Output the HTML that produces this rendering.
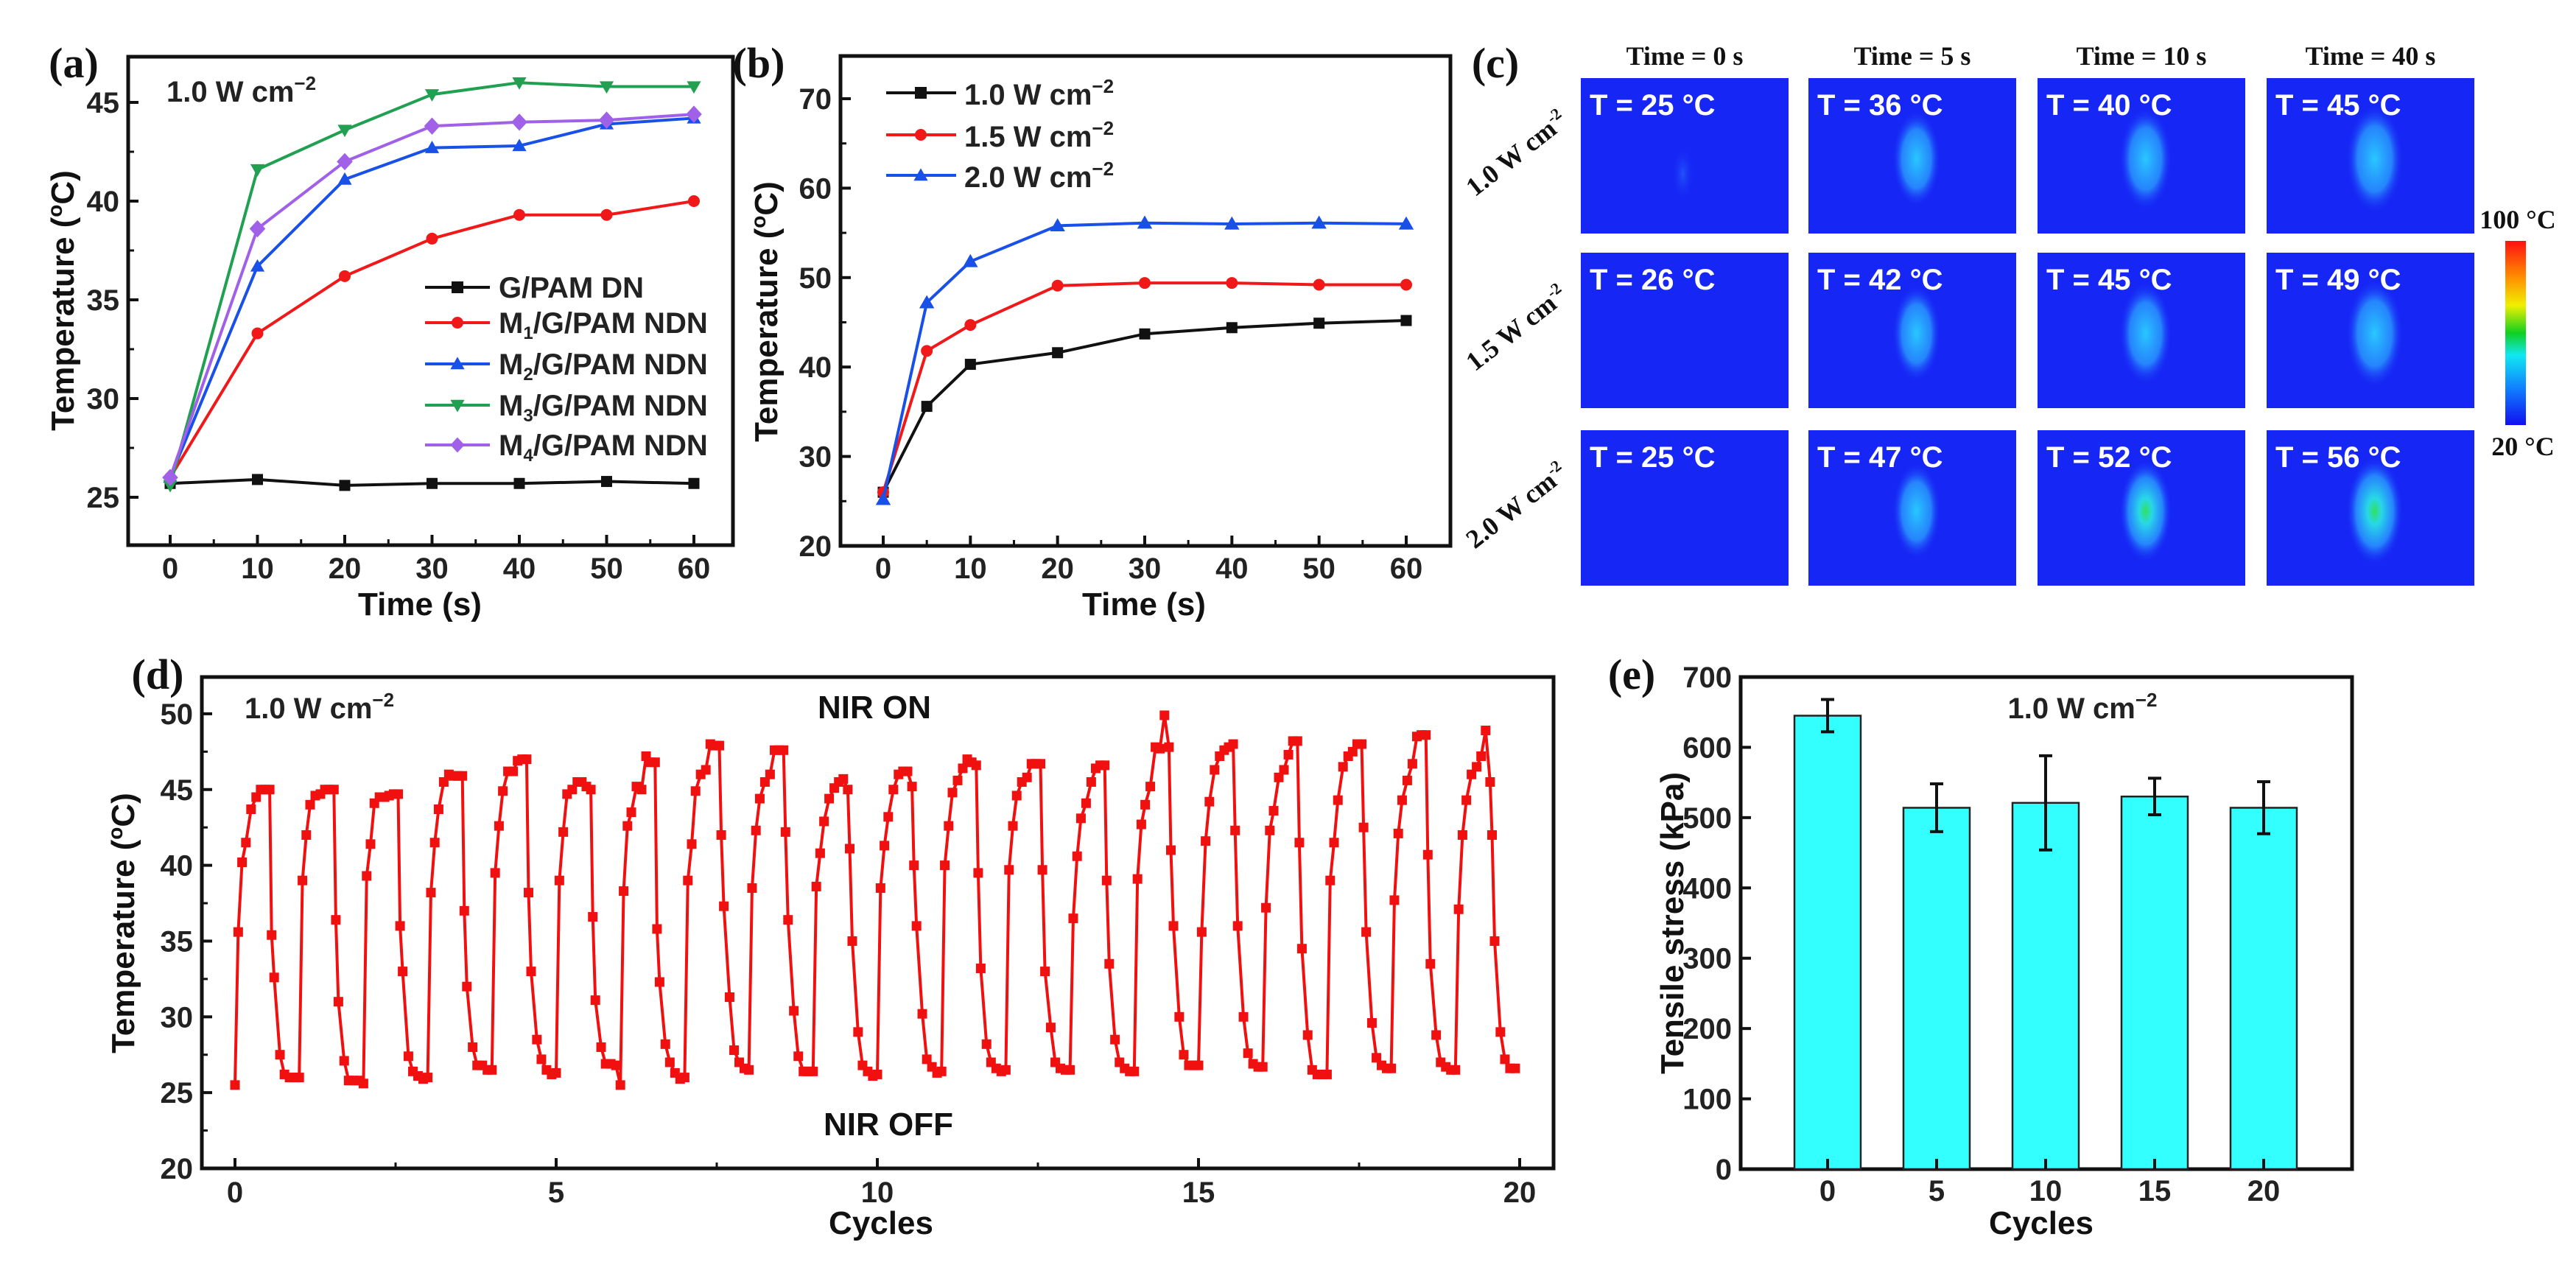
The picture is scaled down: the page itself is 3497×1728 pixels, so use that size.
<!DOCTYPE html>
<html><head><meta charset="utf-8"><style>
html,body{margin:0;padding:0;background:#fff;}
svg{display:block;font-family:"Liberation Sans",sans-serif;}
.tk{font-size:40px;font-weight:bold;fill:#222;}
.ttl{font-size:44px;font-weight:bold;fill:#111;}
.pl{font-family:"Liberation Serif",serif;font-size:58px;font-weight:bold;fill:#111;}
.hd{font-family:"Liberation Serif",serif;font-size:36px;font-weight:bold;fill:#111;}
.it{font-size:40px;fill:#fff;font-weight:bold;}
</style></head><body>
<svg id="fig" width="3497" height="1728" viewBox="0 0 3497 1728" xmlns="http://www.w3.org/2000/svg">
<defs>
<radialGradient id="blob" cx="50%" cy="50%" r="50%"><stop offset="0" stop-color="#28c8ff"/><stop offset="0.6" stop-color="#2a9cff" stop-opacity="0.8"/><stop offset="1" stop-color="#1626f5" stop-opacity="0"/></radialGradient>
<radialGradient id="blobg" cx="50%" cy="50%" r="50%"><stop offset="0" stop-color="#30e060"/><stop offset="0.25" stop-color="#28d8e8"/><stop offset="0.65" stop-color="#2a9cff" stop-opacity="0.8"/><stop offset="1" stop-color="#1626f5" stop-opacity="0"/></radialGradient>
<radialGradient id="blobf" cx="50%" cy="50%" r="50%"><stop offset="0" stop-color="#2a70ff" stop-opacity="0.6"/><stop offset="1" stop-color="#1626f5" stop-opacity="0"/></radialGradient>
<linearGradient id="cbar" x1="0" y1="0" x2="0" y2="1"><stop offset="0" stop-color="#ff1010"/><stop offset="0.2" stop-color="#ff9000"/><stop offset="0.35" stop-color="#f0f000"/><stop offset="0.5" stop-color="#10d020"/><stop offset="0.62" stop-color="#10e8f0"/><stop offset="0.8" stop-color="#1080ff"/><stop offset="1" stop-color="#1010f0"/></linearGradient>
</defs>
</svg>
<script>
// ---------- data ----------
const timeA = [0,10,20,30,40,50,60];
const aDN = [25.7,25.9,25.6,25.7,25.7,25.8,25.7];
const aM1 = [26,33.3,36.2,38.1,39.3,39.3,40];
const aM2 = [26,36.7,41.1,42.7,42.8,43.9,44.2];
const aM3 = [25.6,41.6,43.6,45.4,46,45.8,45.8];
const aM4 = [26,38.6,42,43.8,44,44.1,44.4];
const timeB = [0,5,10,20,30,40,50,60];
const b10 = [26,35.6,40.3,41.6,43.7,44.4,44.9,45.2];
const b15 = [26,41.8,44.7,49.1,49.4,49.4,49.2,49.2];
const b20 = [25.2,47.2,51.8,55.8,56.1,56,56.1,56];
const phaseD = [0,0.05,0.11,0.17,0.25,0.33,0.40,0.47,0.54,0.57,0.61,0.70,0.77,0.85,0.93];
const cyclesD = [
[25.5,35.6,40.2,41.5,43.7,44.5,45,45,45,35.4,32.6,27.5,26.2,26,26],
[26,39,42,44,44.6,44.7,45,45,45,36.4,31,27.1,25.8,25.8,25.8],
[25.6,39.3,41.4,44.1,44.5,44.5,44.6,44.7,44.7,36,33,27.4,26.4,26.1,25.9],
[26,38.2,41.5,43.7,45.5,46,45.9,45.9,45.9,37,32,28,26.8,26.8,26.5],
[26.5,39.5,42.6,44.9,46.2,46.2,46.9,47,47,38.2,33,28.5,27.2,26.5,26.2],
[26.3,39,42.2,44.7,45,45.5,45.5,45.2,45,36.6,31.1,28,26.9,26.9,26.8],
[25.5,38.3,42.6,43.5,45.2,45,47.2,46.8,46.8,35.8,32.3,28.2,27,26.3,25.9],
[26,39,41.4,44.9,46,46.3,48,47.9,47.9,42,37.3,31.3,27.8,27,26.6],
[26.5,38.5,42.3,44.4,45.5,46,47.6,47.6,47.6,42.2,36.4,30.4,27.4,26.4,26.4],
[26.4,38.6,40.8,42.9,44.4,45.1,45.5,45.7,45,41.1,35,29,26.8,26.4,26.1],
[26.2,38.5,41.3,43.2,45,46,46.2,46.2,45.2,40,36,30.2,27.2,26.7,26.3],
[26.4,40,42.6,44.8,45.6,46.4,47,46.8,46.6,39.5,33.2,28.2,27,26.6,26.4],
[26.5,39.7,42.6,44.6,45.5,45.8,46.7,46.7,46.7,39.7,33,29.3,27,26.6,26.5],
[26.5,36.5,40.6,43.1,44.1,45.5,46.4,46.6,46.6,39,33.5,28.5,27,26.6,26.4],
[26.4,39.1,42.7,44,45.2,47.8,47.7,49.9,47.8,41,36,30,27.5,26.8,26.8],
[26.8,35.6,41.6,44.2,46.3,47.2,47.6,47.8,48,42.3,36,30,27.6,26.9,26.7],
[26.7,37.2,42.3,43.6,45.8,46.3,47.3,48.2,48.2,41.5,34.5,28.8,26.5,26.2,26.2],
[26.2,39,41.5,44.3,46.5,47.2,47.5,48,48,42.5,35.6,29.6,27.3,26.8,26.6],
[26.6,37.7,42.1,44.3,45.6,46.7,48.5,48.6,48.6,40.7,33.5,28.8,27,26.7,26.5],
[26.5,37.1,42,44.3,46,46.5,47.2,48.9,45.5,42,35,29,27.2,26.6,26.6]
];
const catsE = ["0","5","10","15","20"];
const valsE = [645,514,521,530,514];
const errE = [23,34,67,26,37];
const imgTemps = [["25","36","40","45"],["26","42","45","49"],["25","47","52","56"]];
const timesC = ["0","5","10","40"];
const powersC = ["1.0","1.5","2.0"];

// ---------- helpers ----------
const NS="http://www.w3.org/2000/svg";
const svg=document.getElementById('fig');
function mk(tag,attrs,parent,txt){const e=document.createElementNS(NS,tag);for(const k in attrs)e.setAttribute(k,attrs[k]);if(txt!==undefined)e.textContent=txt;(parent||svg).appendChild(e);return e;}
function grp(name){const g=mk('g',{});return g;}

function axesBox(g,x0,y0,x1,y1){
  const r=mk('rect',{x:x0,y:y0,width:x1-x0,height:y1-y0,fill:'none',stroke:'#111','stroke-width':5},g);
  
  
}
function yTicks(g,xAxis,ys,vals,minor,fmt){
  vals.forEach(v=>{
    const y=ys(v);
    const l=mk('line',{x1:xAxis,x2:xAxis+14,y1:y,y2:y,stroke:'#111','stroke-width':4},g);
    
    
    const t=mk('text',{x:xAxis-12,y:y+14,'text-anchor':'end',class:'tk'},g,fmt?fmt(v):String(v));
    
    
  });
  minor.forEach(v=>{
    const y=ys(v);
    const l=mk('line',{x1:xAxis,x2:xAxis+8,y1:y,y2:y,stroke:'#111','stroke-width':3},g);
    
    
  });
}
function xTicks(g,yAxis,xs,vals,minor,labelY){
  vals.forEach(v=>{
    const x=xs(v);
    const l=mk('line',{x1:x,x2:x,y1:yAxis,y2:yAxis-14,stroke:'#111','stroke-width':4},g);
    
    
    const t=mk('text',{x:x,y:labelY,'text-anchor':'middle',class:'tk'},g,String(v));
    
    
  });
  minor.forEach(v=>{
    const x=xs(v);
    const l=mk('line',{x1:x,x2:x,y1:yAxis,y2:yAxis-8,stroke:'#111','stroke-width':3},g);
    
    
  });
}
function marker(g,shape,x,y,s,color){
  let e;
  if(shape==='sq') e=mk('rect',{x:x-s/2,y:y-s/2,width:s,height:s,fill:color},g);
  else if(shape==='ci') e=mk('circle',{cx:x,cy:y,r:s/2,fill:color},g);
  else if(shape==='up') e=mk('polygon',{points:`${x},${y-s*0.6} ${x-s*0.6},${y+s*0.45} ${x+s*0.6},${y+s*0.45}`,fill:color},g);
  else if(shape==='dn') e=mk('polygon',{points:`${x},${y+s*0.6} ${x-s*0.6},${y-s*0.45} ${x+s*0.6},${y-s*0.45}`,fill:color},g);
  else e=mk('polygon',{points:`${x},${y-s*0.65} ${x+s*0.6},${y} ${x},${y+s*0.65} ${x-s*0.6},${y}`,fill:color},g);
  
  
}
function series(g,name,xsArr,ysArr,xs,ys,color,shape,size){
  const sg=mk('g',{},g);
  
  
  const pts=xsArr.map((t,i)=>xs(t)+','+ys(ysArr[i])).join(' ');
  const pl=mk('polyline',{points:pts,fill:'none',stroke:color,'stroke-width':4,'stroke-linejoin':'round'},sg);
  
  
  xsArr.forEach((t,i)=>marker(sg,shape,xs(t),ys(ysArr[i]),size,color));
}
function legendEntry(g,x,y,color,shape,label,sub,rest){
  const lg=mk('g',{},g);
  
  
  const l=mk('line',{x1:x,x2:x+88,y1:y,y2:y,stroke:color,'stroke-width':4},lg);
  
  
  marker(lg,shape,x+44,y,16,color);
  const t=mk('text',{x:x+100,y:y+14,class:'tk'},lg);
  
  
  t.appendChild(document.createTextNode(label));
  if(sub){const s=mk('tspan',{'font-size':24,dy:8},t,sub);const r=mk('tspan',{dy:-8},t,rest);}
}
function powerText(g,x,y,anchor,txt){
  const t=mk('text',{x:x,y:y,class:'tk','text-anchor':anchor||'start'},g);
  
  
  t.appendChild(document.createTextNode(txt+' W cm'));
  mk('tspan',{'font-size':26,dy:-16},t,'−2');
  return t;
}
function yTitle(g,x,y,txt,sup,rest){
  const t=mk('text',{x:0,y:0,class:'ttl','text-anchor':'middle',transform:`translate(${x},${y}) rotate(-90)`},g);
  
  
  t.appendChild(document.createTextNode(txt));
  if(sup){mk('tspan',{'font-size':28,dy:-16},t,sup);mk('tspan',{dy:16},t,rest);}
}
function xTitle(g,x,y,txt){
  const t=mk('text',{x:x,y:y,class:'ttl','text-anchor':'middle'},g,txt);
  
  
}
function panelLabel(x,y,txt){
  const t=mk('text',{x:x,y:y,class:'pl','text-anchor':'middle'},svg,txt);
  
  
}

// ---------- panel a ----------
(function(){
  const g=grp('panel-a-chart');
  const xs=t=>231+t*11.85, ys=v=>675-(v-25)*26.8;
  axesBox(g,174,77,995,740);
  yTicks(g,174,ys,[25,30,35,40,45],[27.5,32.5,37.5,42.5,47.5].filter(v=>ys(v)>80),null);
  xTicks(g,740,xs,[0,10,20,30,40,50,60],[5,15,25,35,45,55],785);
  series(g,'series-g-pam-dn',timeA,aDN,xs,ys,'#111','sq',15);
  series(g,'series-m1',timeA,aM1,xs,ys,'#f01818','ci',16);
  series(g,'series-m2',timeA,aM2,xs,ys,'#1850e8','up',16);
  series(g,'series-m3',timeA,aM3,xs,ys,'#20a050','dn',16);
  series(g,'series-m4',timeA,aM4,xs,ys,'#a060e8','di',18);
  const lg=mk('g',{},g);
  
  
  legendEntry(lg,577,390,'#111','sq','G/PAM DN');
  legendEntry(lg,577,438,'#f01818','ci','M','1','/G/PAM NDN');
  legendEntry(lg,577,494,'#1850e8','up','M','2','/G/PAM NDN');
  legendEntry(lg,577,550,'#20a050','dn','M','3','/G/PAM NDN');
  legendEntry(lg,577,604,'#a060e8','di','M','4','/G/PAM NDN');
  powerText(g,226,138,'start','1.0');
  yTitle(g,100,408,'Temperature (','o','C)');
  xTitle(g,570,835,'Time (s)');
  panelLabel(100,105,'(a)');
})();

// ---------- panel b ----------
(function(){
  const g=grp('panel-b-chart');
  const xs=t=>1199+t*11.833, ys=v=>741-(v-20)*12.14;
  axesBox(g,1141,76,1969,741);
  yTicks(g,1141,ys,[20,30,40,50,60,70],[25,35,45,55,65],null);
  xTicks(g,741,xs,[0,10,20,30,40,50,60],[5,15,25,35,45,55],785);
  series(g,'series-1-0-w',timeB,b10,xs,ys,'#111','sq',15);
  series(g,'series-1-5-w',timeB,b15,xs,ys,'#f01818','ci',16);
  series(g,'series-2-0-w',timeB,b20,xs,ys,'#1850e8','up',17);
  const lg=mk('g',{},g);
  
  
  [['#111','sq','1.0',126],['#f01818','ci','1.5',183],['#1850e8','up','2.0',238]].forEach(d=>{
    const e=mk('g',{},lg);
    
    
    const l=mk('line',{x1:1203,x2:1298,y1:d[3],y2:d[3],stroke:d[0],'stroke-width':4},e);
    
    
    marker(e,d[1],1250,d[3],16,d[0]);
    powerText(e,1309,d[3]+16,'start',d[2]);
  });
  yTitle(g,1055,423,'Temperature (','o','C)');
  xTitle(g,1553,835,'Time (s)');
  panelLabel(1030,105,'(b)');
})();

// ---------- panel c ----------
(function(){
  const g=grp('panel-c-thermal-images');
  const colX=[2146,2455,2766,3077], rowY=[106,343,584], W=282, H=211;
  timesC.forEach((t,j)=>{
    const h=mk('text',{x:colX[j]+W/2,y:88,class:'hd','text-anchor':'middle'},g,'Time = '+t+' s');
    
    
  });
  powersC.forEach((p,i)=>{
    const t=mk('text',{x:0,y:0,class:'hd','text-anchor':'middle',transform:`translate(${2066},${rowY[i]+112}) rotate(-38)`},g);
    
    
    t.appendChild(document.createTextNode(p+' W cm'));
    mk('tspan',{'font-size':22,dy:-14},t,'-2');
    timesC.forEach((tt,j)=>{
      const ig=mk('g',{},g);
      
      
      mk('rect',{x:colX[j],y:rowY[i],width:W,height:H,fill:'#1626f5'},ig);
      const cx=colX[j]+W*0.52, cy=rowY[i]+H*0.52;
      const fill = j===0?'url(#blobf)':(i===2&&j>=2?'url(#blobg)':'url(#blob)');
      const rx = j===0?16:30+j*3, ry=j===0?40:62+j*4;
      if(!(j===0&&i>0)) mk('ellipse',{cx:cx-(j===0?8:0),cy:cy+(j===0?20:0),rx:rx,ry:ry,fill:fill},ig);
      const lab=mk('text',{x:colX[j]+12,y:rowY[i]+50,class:'it'},ig,'T = '+imgTemps[i][j]+' °C');
      
      
    });
  });
  const cb=mk('rect',{x:3401,y:327,width:28,height:250,fill:'url(#cbar)'},g);
  
  
  const t1=mk('text',{x:3418,y:310,class:'hd','text-anchor':'middle','font-size':32},g,'100 °C');
  
  
  const t2=mk('text',{x:3425,y:618,class:'hd','text-anchor':'middle','font-size':32},g,'20 °C');
  
  
  panelLabel(2030,105,'(c)');
})();

// ---------- panel d ----------
(function(){
  const g=grp('panel-d-chart');
  const xs=c=>319+c*87.2, ys=v=>1586-(v-20)*20.57;
  axesBox(g,274,919,2109,1586);
  yTicks(g,274,ys,[20,25,30,35,40,45,50],[22.5,27.5,32.5,37.5,42.5,47.5],null);
  xTicks(g,1586,xs,[0,5,10,15,20],[2.5,7.5,12.5,17.5],1632);
  const xsArr=[], ysArr=[];
  cyclesD.forEach((vals,c)=>vals.forEach((v,k)=>{xsArr.push(c+phaseD[k]);ysArr.push(v);}));
  series(g,'series-cycling-temperature',xsArr,ysArr,xs,ys,'#f01010','sq',13);
  powerText(g,332,975,'start','1.0');
  const on=mk('text',{x:1187,y:975,class:'ttl','text-anchor':'middle'},g,'NIR ON');
  
  
  const off=mk('text',{x:1206,y:1541,class:'ttl','text-anchor':'middle'},g,'NIR OFF');
  
  
  yTitle(g,182,1253,'Temperature (','o','C)');
  xTitle(g,1196,1675,'Cycles');
  panelLabel(214,935,'(d)');
})();

// ---------- panel e ----------
(function(){
  const g=grp('panel-e-chart');
  const xs=i=>2481+i*148, ys=v=>1587-v*0.9543;
  axesBox(g,2363,919,3193,1587);
  yTicks(g,2363,ys,[0,100,200,300,400,500,600,700],[],null);
  catsE.forEach((c,i)=>{
    const b=mk('rect',{x:xs(i)-45,y:ys(valsE[i]),width:90,height:ys(0)-ys(valsE[i]),fill:'#33ffff',stroke:'#222','stroke-width':2.5},g);
    
    
    const e=mk('path',{d:`M${xs(i)},${ys(valsE[i]+errE[i])}V${ys(valsE[i]-errE[i])}M${xs(i)-9},${ys(valsE[i]+errE[i])}H${xs(i)+9}M${xs(i)-9},${ys(valsE[i]-errE[i])}H${xs(i)+9}`,stroke:'#111','stroke-width':4,fill:'none'},g);
    
    
    const tk=mk('line',{x1:xs(i),x2:xs(i),y1:1587,y2:1573,stroke:'#111','stroke-width':4},g);
    
    
    const t=mk('text',{x:xs(i),y:1630,class:'tk','text-anchor':'middle'},g,c);
    
    
  });
  powerText(g,2827,975,'middle','1.0');
  yTitle(g,2285,1253,'Tensile stress (kPa)');
  xTitle(g,2771,1675,'Cycles');
  panelLabel(2215,935,'(e)');
})();
</script>
</body></html>
